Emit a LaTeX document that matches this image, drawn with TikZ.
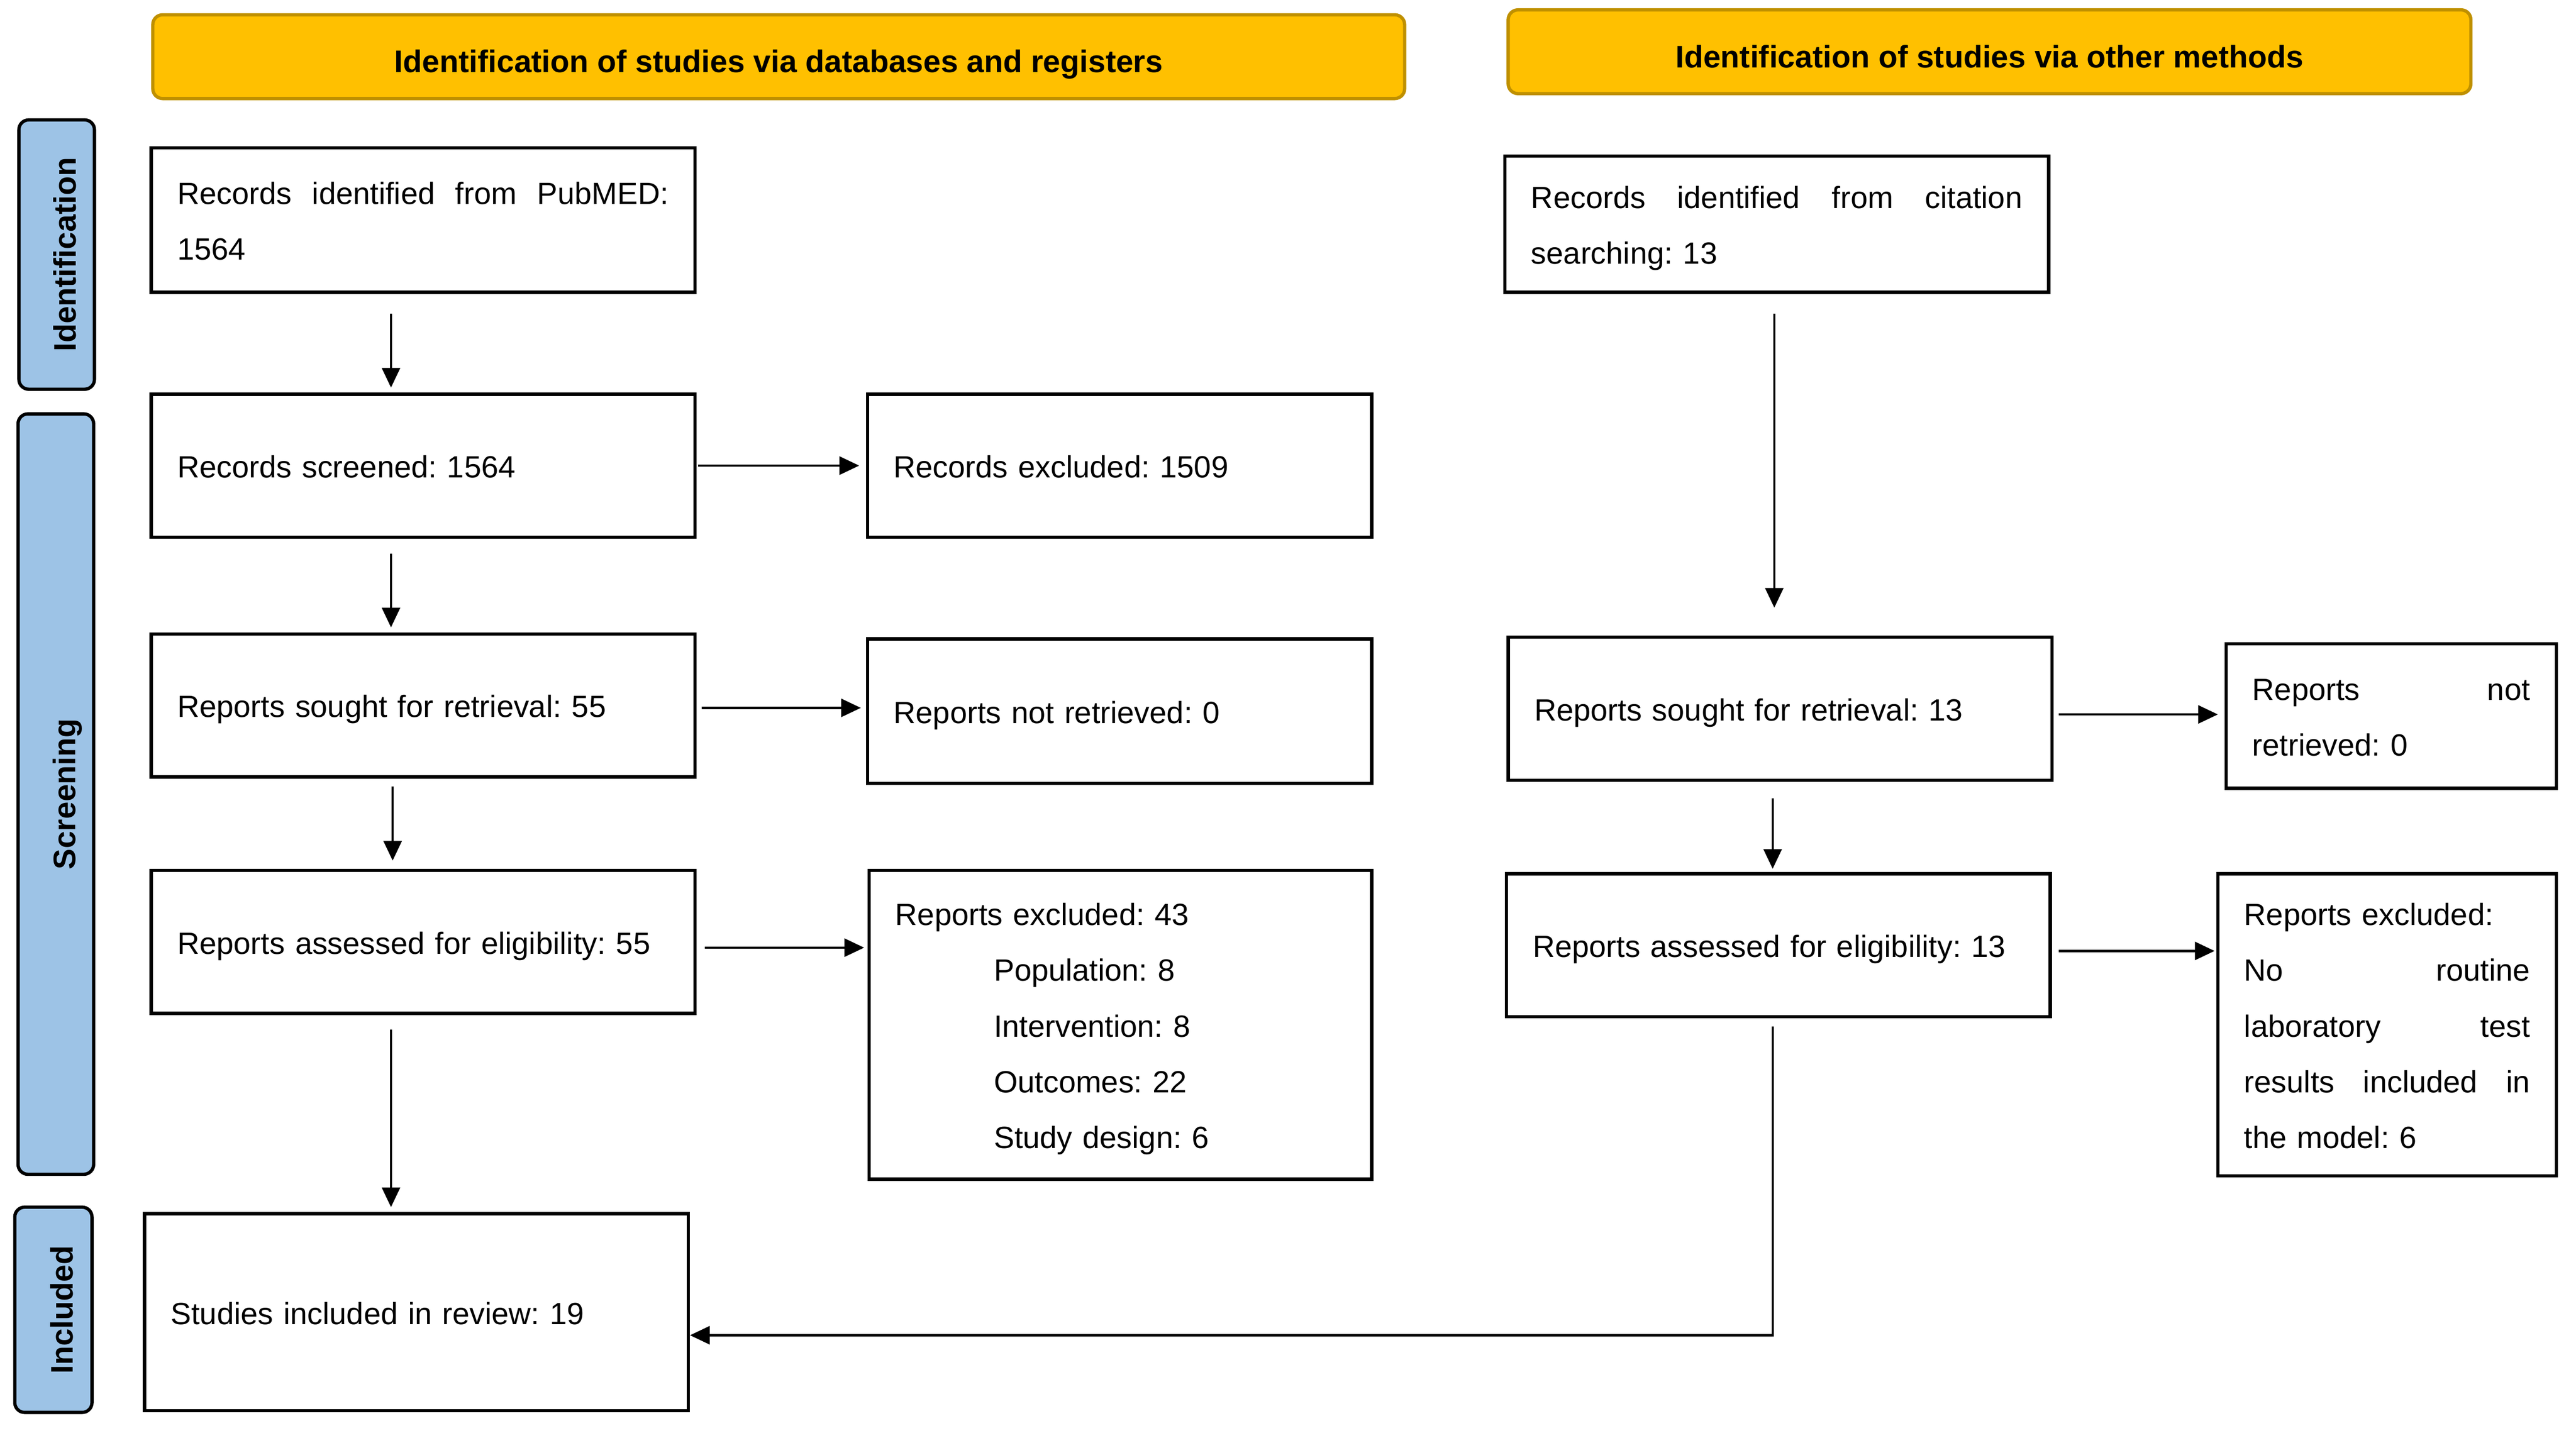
\documentclass[tikz,border=0pt]{standalone}
\usepackage{fontspec}
\setmainfont{Liberation Sans}
\usetikzlibrary{arrows.meta}
\newcommand\bodyfont{\fontsize{18.7}{34}\selectfont\frenchspacing}
\newcommand\headfont{\bfseries\fontsize{19}{23}\selectfont\frenchspacing}
\newcommand\tstrut{\rule[-4.2pt]{0pt}{23pt}}
\newcommand\hdrtext[1]{\raisebox{-9.6pt}[0pt][0pt]{#1}}
\newcommand\sidetext[1]{\raisebox{-11.8pt}[0pt][0pt]{#1}}
\definecolor{hdrfill}{HTML}{FFC000}
\definecolor{hdrdraw}{HTML}{BF9000}
\definecolor{sidefill}{HTML}{9DC3E6}
\begin{document}
\begin{tikzpicture}[x=1pt,y=-1pt,
 box/.style={draw, line width=2pt, inner xsep=16pt, inner ysep=0pt, align=left, font=\bodyfont, fill=white},
 hdr/.style={draw=hdrdraw, fill=hdrfill, line width=2pt, rounded corners=6pt, font=\headfont, inner sep=0pt},
 side/.style={draw, fill=sidefill, line width=2pt, rounded corners=6pt, rotate=90, font=\headfont, inner sep=0pt},
 arr/.style={line width=1.4pt, -{Triangle[length=12pt,width=11pt]}}]
\useasboundingbox (0,0) rectangle (1568,875.44);

% headers
\node[hdr, minimum width=762pt, minimum height=51pt] (hA) at (474,34.5) {\hdrtext{Identification of studies via databases and registers}};
\node[hdr, minimum width=586pt, minimum height=51pt] (hB) at (1211,31.5) {\hdrtext{Identification of studies via other methods}};

% side labels
\node[side, minimum width=164pt, minimum height=46pt] (sI) at (34.5,155) {\sidetext{Identification}};
\node[side, minimum width=463pt, minimum height=46pt] (sS) at (34,483.5) {\sidetext{Screening}};
\node[side, minimum width=125pt, minimum height=47pt] (sN) at (32.5,797.5) {\sidetext{Included}};

% left column
\node[box, text width=299pt, minimum height=88pt] (b1) at (257.5,134) {\tstrut Records\hfill identified\hfill from\hfill PubMED:\\\tstrut 1564};
\node[box, text width=299pt, minimum height=87pt] (b2) at (257.5,283.5) {\tstrut Records screened: 1564};
\node[box, text width=299pt, minimum height=87pt] (b3) at (257.5,429.5) {\tstrut Reports sought for retrieval: 55};
\node[box, text width=299pt, minimum height=87pt] (b4) at (257.5,573.5) {\tstrut Reports assessed for eligibility: 55};
\node[box, text width=299pt, minimum height=120pt] (b5) at (253.5,799) {\tstrut Studies included in review: 19};

% middle column
\node[box, text width=275pt, minimum height=87pt] (c2) at (681.5,283.5) {\tstrut Records excluded: 1509};
\node[box, text width=275pt, minimum height=88pt] (c3) at (681.5,433) {\tstrut Reports not retrieved: 0};
\node[box, text width=274pt, minimum height=188pt] (c4) at (682,624) {\tstrut Reports excluded: 43\\\hspace*{60pt}Population: 8\\\hspace*{60pt}Intervention: 8\\\hspace*{60pt}Outcomes: 22\\\tstrut\hspace*{60pt}Study design: 6};

% right columns
\node[box, text width=299pt, minimum height=83pt] (d1) at (1081.5,136.5) {\tstrut Records\hfill identified\hfill from\hfill citation\\\tstrut searching: 13};
\node[box, text width=299pt, minimum height=87pt] (d3) at (1083.5,431.5) {\tstrut Reports sought for retrieval: 13};
\node[box, text width=299pt, minimum height=87pt] (d4) at (1082.5,575.5) {\tstrut Reports assessed for eligibility: 13};
\node[box, text width=169pt, minimum height=88pt] (e3) at (1455.5,436) {\tstrut Reports\hfill not\\\tstrut retrieved: 0};
\node[box, text width=174pt, minimum height=184pt] (e4) at (1453,624) {\tstrut Reports excluded:\\No\hfill routine\\laboratory\hfill test\\results\hfill included\hfill in\\\tstrut the model: 6};

% arrows left column
\draw[arr, shorten <=12pt, shorten >=3pt] ([xshift=-19.5pt]b1.south) -- ([xshift=-19.5pt]b2.north);
\draw[arr, shorten <=9pt, shorten >=3pt] ([xshift=-19.5pt]b2.south) -- ([xshift=-19.5pt]b3.north);
\draw[arr, shorten <=5pt, shorten >=5pt] ([xshift=-18.5pt]b3.south) -- ([xshift=-18.5pt]b4.north);
\draw[arr, shorten <=9pt, shorten >=3pt] ([xshift=-19.5pt]b4.south) -- ([xshift=-19.5pt]b4.south |- b5.north);
\draw[arr, shorten <=1pt, shorten >=4pt] (b2.east) -- (b2.east -| c2.west);
\draw[arr, shorten <=3pt, shorten >=3pt] ([yshift=-1.5pt]b3.east) -- ([yshift=-1.5pt]b3.east -| c3.west);
\draw[arr, shorten <=5pt, shorten >=2pt] ([yshift=-3.5pt]b4.east) -- ([yshift=-3.5pt]b4.east -| c4.west);

% arrows right
\draw[arr, shorten <=12pt, shorten >=17pt] ([xshift=-1.5pt]d1.south) -- ([xshift=-1.5pt]d1.south |- d3.north);
\draw[arr, shorten <=10pt, shorten >=2pt] ([xshift=-4.5pt]d3.south) -- ([xshift=-4.5pt]d3.south |- d4.north);
\draw[arr, shorten <=3pt, shorten >=4pt] ([yshift=-3.5pt]d3.east) -- ([yshift=-3.5pt]d3.east -| e3.west);
\draw[arr, shorten <=4pt, shorten >=1pt] ([yshift=-3.5pt]d4.east) -- ([yshift=-3.5pt]d4.east -| e4.west);
\draw[arr, shorten <=5pt] ([xshift=-3.5pt]d4.south) |- ([yshift=-14pt]b5.east);
\end{tikzpicture}
\end{document}
